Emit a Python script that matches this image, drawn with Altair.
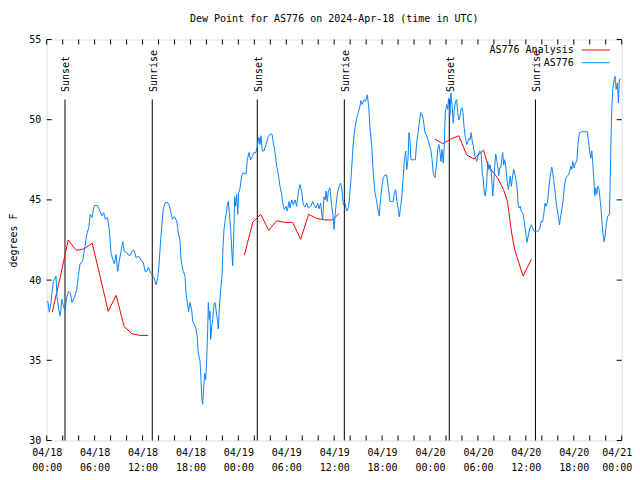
import altair as alt
import pandas as pd
import json

TITLE = "Dew Point for AS776 on 2024-Apr-18 (time in UTC)"
FONT = "DejaVu Sans Mono"
BLUE = "#0a84ff"
RED = "#ff0000"

# ---- AS776 observations (hours since 2024-04-18 00:00 UTC, deg F) ----
blue_hours = [
    0.13, 0.33, 0.54, 0.66, 0.83, 1.16, 1.29, 1.5, 1.7, 1.9, 2.08, 2.29, 2.5, 2.75, 2.96, 3.17, 3.46, 3.76, 3.96,
    4.17, 4.5, 4.83, 5.0, 5.26, 5.46, 5.67, 5.96, 6.38, 6.67, 6.92, 7.13, 7.34, 7.63, 7.84, 8.05, 8.26, 8.47, 8.68,
    8.89, 9.09, 9.34, 9.52, 9.72, 10.02, 10.35, 10.68, 10.97, 11.18, 11.52, 11.81, 12.1, 12.31,
    12.52, 12.72, 13.02, 13.22, 13.43, 13.69, 13.9, 14.06, 14.27, 14.44, 14.6, 14.81, 15.1, 15.35, 15.56, 15.73,
    15.98, 16.28, 16.48, 16.69, 16.82, 17.03, 17.32, 17.44, 17.61, 17.78, 17.94, 18.15, 18.28, 18.48, 18.69, 18.86,
    18.98, 19.2, 19.32, 19.41, 19.53, 19.66, 19.78, 19.91, 20.03, 20.16, 20.24, 20.36, 20.45, 20.53, 20.66, 20.79,
    20.95, 21.08, 21.2, 21.37, 21.49, 21.62, 21.79, 21.95, 22.08, 22.2, 22.37, 22.54, 22.61, 22.74, 22.87, 23.04,
    23.17, 23.29, 23.42, 23.54, 23.67, 23.79, 23.92, 24.04, 24.2,
    24.42, 24.62, 24.96, 25.12, 25.33, 25.54, 25.74, 25.96, 26.2, 26.37, 26.58, 26.71, 26.83, 27.0, 27.21, 27.46,
    27.75, 27.96, 28.21, 28.38, 28.59, 28.8, 29.0, 29.21, 29.43, 29.55, 29.75, 29.97, 30.13, 30.34, 30.47, 30.68,
    30.88, 31.09, 31.3, 31.51, 31.72, 31.93, 32.13, 32.34, 32.55, 32.76, 33.06, 33.31, 33.47, 33.72, 33.93, 34.1,
    34.31, 34.44, 34.56, 34.72, 34.89, 34.97, 35.14, 35.26, 35.47, 35.64, 35.81, 35.98, 36.1, 36.26, 36.44, 36.64,
    36.81,
    36.94, 37.14, 37.35, 37.57, 37.77, 37.89, 38.07, 38.23, 38.39, 38.6, 38.82, 39.02, 39.23, 39.35, 39.52, 39.73,
    39.94, 40.14, 40.32, 40.48, 40.7, 40.9, 41.11, 41.32, 41.52, 41.65, 41.74, 41.95, 42.15, 42.36, 42.57, 42.7,
    42.86, 42.99, 43.2, 43.4, 43.53, 43.7, 43.83, 44.03, 44.15, 44.33, 44.45, 44.65, 44.78, 44.95, 45.08, 45.24,
    45.36, 45.49, 45.61, 45.9, 46.16, 46.33, 46.5, 46.66, 46.84, 47.0, 47.16, 47.37, 47.66, 47.91, 48.08, 48.24,
    48.41, 48.62, 48.83, 48.96, 49.12, 49.25, 49.37, 49.5, 49.66, 49.79, 49.91, 50.09, 50.21, 50.33, 50.5, 50.62,
    50.75, 50.91, 51.04, 51.21, 51.34, 51.46, 51.63, 51.75, 51.88, 52.0, 52.13, 52.25, 52.42, 52.6, 52.76, 52.88,
    53.01, 53.13, 53.3, 53.42, 53.63, 53.84, 54.04, 54.25, 54.41, 54.54, 54.66, 54.79, 54.92, 55.1, 55.22, 55.35,
    55.51, 55.68, 55.85, 55.98, 56.1, 56.23, 56.35, 56.48, 56.6, 56.73, 56.85, 56.98, 57.1, 57.23, 57.35, 57.48,
    57.64, 57.8, 57.93, 58.05, 58.18, 58.35, 58.47, 58.63, 58.75, 58.92, 59.04, 59.17, 59.29, 59.42, 59.6, 59.76,
    59.88, 60.01, 60.13, 60.26, 60.38, 60.51, 60.68, 60.86, 61.03, 61.28, 61.56, 61.77, 61.9, 62.1, 62.27, 62.4,
    62.52, 62.69, 62.81, 62.94, 63.11, 63.24, 63.36, 63.53, 63.69, 63.86, 64.07, 64.2, 64.37, 64.54, 64.7, 64.87,
    65.04, 65.25, 65.45, 65.63, 65.75, 65.88, 66.04, 66.21, 66.38, 66.54, 66.71, 67.01, 67.42, 67.71, 67.83, 67.96,
    68.13, 68.26, 68.38, 68.51, 68.63, 68.76, 68.88, 69.01, 69.17, 69.3, 69.42, 69.55, 69.67, 69.8, 69.92, 70.09,
    70.26, 70.46, 70.55, 70.63, 70.76, 70.88, 71.05, 71.17, 71.3, 71.46, 71.59, 71.71, 71.88,
]
blue_dewpoint = [
    38.7, 38.0, 38.6, 39.2, 39.9, 40.25, 39.0, 38.2, 37.75, 38.8, 38.4, 38.1, 38.9, 39.3, 39.2, 38.6, 38.9, 39.4, 40.25,
    41.0, 41.2, 42.2, 42.85, 43.25, 44.1, 43.9, 44.65, 44.65, 44.3, 44.0, 44.2, 43.8, 43.9, 43.15, 41.7, 41.3, 41.0, 41.6,
    40.55, 41.2, 41.9, 42.4, 41.8, 41.7, 41.5, 41.8, 41.85, 41.4, 41.5, 41.25, 41.1, 40.55,
    40.55, 40.8, 40.45, 40.3, 40.15, 39.7, 40.15, 40.9, 42.5, 43.55, 44.4, 44.8, 44.85, 44.65, 44.2, 43.8,
    43.95, 43.7, 42.95, 42.5, 41.3, 40.65, 40.25, 39.2, 38.6, 38.05, 38.6, 38.15, 37.45, 37.25, 37.0, 36.4,
    35.45, 34.95, 33.8, 32.75, 32.25, 33.3, 34.2, 33.8, 34.95, 36.9, 38.6, 37.55, 38.05, 36.3, 37.1, 37.55,
    38.5, 38.6, 38.15, 37.55, 36.95, 38.3, 39.4, 40.25, 42.1, 43.15, 43.8, 44.3, 44.7, 44.9, 44.2, 43.15,
    41.9, 40.9, 42.75, 45.2, 44.6, 45.35, 44.1, 45.45, 45.7,
    46.5, 46.7, 46.6, 47.5, 47.95, 47.5, 47.7, 47.95, 47.95, 48.35, 48.9, 48.45, 49.0, 48.05, 48.05, 48.45,
    48.95, 49.1, 49.1, 48.55, 47.95, 47.1, 46.6, 45.85, 45.35, 44.8, 44.4, 44.6, 44.3, 44.9, 44.5, 45.0,
    44.7, 45.0, 44.6, 45.45, 45.95, 45.55, 44.7, 44.55, 44.8, 44.5, 44.6, 44.9, 44.7, 44.5, 44.8, 44.45,
    44.8, 44.1, 43.8, 45.2, 45.0, 45.55, 44.9, 45.55, 45.75, 44.8, 44.2, 43.15, 44.0, 44.8, 45.55, 45.85,
    46.05,
    45.75, 44.7, 44.8, 44.3, 44.5, 45.0, 46.05, 47.3, 48.55, 49.5, 50.1, 50.45, 50.85, 51.2, 50.95, 51.25,
    51.15, 51.55, 50.85, 49.5, 48.35, 46.6, 45.45, 44.9, 44.3, 44.0, 44.7, 45.75, 46.4, 46.55, 46.55, 46.05,
    45.45, 44.9, 44.9, 44.9, 45.45, 45.65, 45.0, 44.4, 43.95, 44.6, 45.1, 46.5, 47.4, 48.05, 46.9, 47.5,
    49.2, 48.75, 47.5, 47.5, 47.5, 48.55, 49.2, 49.8, 50.45, 50.3, 50.0, 49.2, 48.9, 48.45, 48.15, 47.6,
    46.6, 46.4, 47.3, 48.15, 48.45, 47.95, 47.4, 48.15, 47.3, 48.35, 50.45, 50.95, 50.65, 51.35, 50.3, 51.65,
    50.95, 49.8, 50.65, 51.15, 51.25, 50.45, 50.0, 50.2, 50.65, 50.75, 50.45, 49.6, 48.9, 48.45, 48.65, 48.85,
    48.75, 49.2, 48.65, 48.35, 47.7, 47.4, 47.85, 48.05, 47.85, 46.7, 46.3, 45.45, 45.25, 46.05, 47.4, 46.9,
    47.2, 46.7, 45.25, 46.05, 47.1, 47.85, 47.5, 47.1, 46.5, 47.0, 47.0, 47.5, 47.95, 47.2, 47.5, 47.1,
    46.3, 45.65, 46.05, 46.5, 45.85, 46.5, 46.9, 46.6, 46.3, 45.65, 44.7, 44.5, 44.6, 44.3, 44.2, 43.8,
    43.35, 42.85, 42.35, 42.65, 42.95, 43.25, 43.45, 43.25, 43.05, 43.05, 43.05, 43.25, 43.65, 43.65, 44.2, 44.8,
    44.6, 44.8, 45.35, 46.05, 46.7, 47.05, 46.7, 46.05, 45.35, 44.6, 44.0, 43.45, 44.0, 44.5, 45.15, 46.0,
    46.4, 46.5, 46.7, 47.1, 46.9, 47.4, 47.0, 47.3, 47.4, 48.55, 49.2, 49.25, 49.25, 49.25, 48.75, 48.15,
    47.6, 48.05, 47.3, 46.3, 45.25, 45.75, 45.35, 45.85, 45.65, 45.0, 44.4, 43.45, 42.85, 42.4, 42.75, 43.55,
    44.0, 44.05, 45.85, 47.95, 50.65, 51.9, 52.5, 52.7, 51.9, 52.3, 51.05, 52.5, 52.55,
]

# ---- AS776 Analysis (three separate runs) ----
red_hours_1 = [0.7, 1.7, 2.7, 3.7, 4.7, 5.7, 6.7, 7.7, 8.7, 9.7, 10.7, 11.7, 12.7]
red_dewpoint_1 = [38.0, 40.2, 42.5, 41.85, 41.95, 42.3, 40.2, 38.05, 39.05, 37.1, 36.65, 36.55, 36.55]
red_hours_2 = [24.75, 25.8, 26.8, 27.8, 28.8, 29.8, 30.8, 31.8, 32.8, 33.8, 34.8, 35.8, 36.6]
red_dewpoint_2 = [41.55, 43.6, 44.1, 43.1, 43.7, 43.6, 43.6, 42.55, 44.1, 43.85, 43.75, 43.75, 44.15]
red_hours_3 = [48.6, 49.6, 50.6, 51.6, 52.6, 53.5, 54.7, 55.3, 56.5, 57.2, 57.7, 58.2, 58.6, 59.65, 60.7]
red_dewpoint_3 = [48.8, 48.5, 48.8, 49.0, 47.8, 47.55, 48.1, 47.1, 46.35, 45.65, 44.9, 43.0, 41.9, 40.25, 41.3]

# ---- sunset / sunrise markers ----
sun_hours = [2.29, 13.22, 26.37, 37.27, 50.41, 61.2]
sun_labels = ["Sunset", "Sunrise", "Sunset", "Sunrise", "Sunset", "Sunrise"]

# ---- axis ticks ----
x_tick_hours = [0, 6, 12, 18, 24, 30, 36, 42, 48, 54, 60, 66, 72]
x_tick_dates = ["04/18", "04/18", "04/18", "04/18", "04/19", "04/19", "04/19", "04/19",
                "04/20", "04/20", "04/20", "04/20", "04/21"]
x_tick_times = ["00:00", "06:00", "12:00", "18:00", "00:00", "06:00", "12:00", "18:00",
                "00:00", "06:00", "12:00", "18:00", "00:00"]
x_minor_hours = [0, 2, 4, 6, 8, 10, 12, 14, 16, 18, 20, 22, 24, 26, 28, 30, 32, 34, 36,
                 38, 40, 42, 44, 46, 48, 50, 52, 54, 56, 58, 60, 62, 64, 66, 68, 70, 72]
y_ticks = [30, 35, 40, 45, 50, 55]

legend_labels = ["AS776 Analysis", "AS776"]
legend_colors = [RED, BLUE]

W, H = 575, 401

blue_df = pd.DataFrame({"hour": blue_hours, "value": blue_dewpoint})
red_df = pd.concat([
    pd.DataFrame({"hour": red_hours_1, "value": red_dewpoint_1, "seg": 1}),
    pd.DataFrame({"hour": red_hours_2, "value": red_dewpoint_2, "seg": 2}),
    pd.DataFrame({"hour": red_hours_3, "value": red_dewpoint_3, "seg": 3}),
])
sun_df = pd.DataFrame({"hour": sun_hours, "label": sun_labels})
xt_df = pd.DataFrame({"hour": x_minor_hours})
yt_df = pd.DataFrame({"value": y_ticks})

label_expr = "[{d}[round(datum.value/6)], {t}[round(datum.value/6)]]".format(
    d=json.dumps(x_tick_dates), t=json.dumps(x_tick_times))

xaxis = alt.Axis(values=x_tick_hours, labelExpr=label_expr, title=None, grid=False,
                 ticks=False, tickSize=0, domain=False, labelFont=FONT, labelFontSize=10,
                 labelColor="black", labelPadding=7, labelLineHeight=15, labelFlush=False,
                 labelOverlap=False,
                 labelOffset=alt.condition("datum.value >= 72", alt.value(-5), alt.value(0)))
yaxis = alt.Axis(values=y_ticks, title="degrees F", grid=False, ticks=False, tickSize=0,
                 domain=False, labelFont=FONT, labelFontSize=10, labelColor="black",
                 labelPadding=6, titleFont=FONT, titleFontSize=10, titleFontWeight="normal",
                 titleColor="black", titlePadding=10)

X = alt.X("hour:Q", scale=alt.Scale(domain=[0, 72], nice=False, zero=False), axis=xaxis)
Y = alt.Y("value:Q", scale=alt.Scale(domain=[30, 55], nice=False, zero=False), axis=yaxis)

blue = alt.Chart(blue_df).mark_line(color=BLUE, strokeWidth=1).encode(x=X, y=Y)
red = alt.Chart(red_df).mark_line(color=RED, strokeWidth=1).encode(x=X, y=Y, detail="seg:N")

sun_rules = alt.Chart(sun_df).mark_rule(color="black", strokeWidth=1).encode(
    x=X, y=alt.value(60), y2=alt.value(H))
sun_text = alt.Chart(sun_df).mark_text(
    angle=270, align="left", baseline="middle", font=FONT, fontSize=10, color="black", dy=1.5
).encode(x=X, y=alt.value(52.5), text="label:N")

xt_bottom = alt.Chart(xt_df).mark_rule(color="black", strokeWidth=1).encode(
    x=X, y=alt.value(H), y2=alt.value(H - 5))
xt_top = alt.Chart(xt_df).mark_rule(color="black", strokeWidth=1).encode(
    x=X, y=alt.value(0), y2=alt.value(5))
yt_left = alt.Chart(yt_df).mark_rule(color="black", strokeWidth=1).encode(
    y=Y, x=alt.value(0), x2=alt.value(5))
yt_right = alt.Chart(yt_df).mark_rule(color="black", strokeWidth=1).encode(
    y=Y, x=alt.value(W - 5), x2=alt.value(W))

leg_layers = []
for i, (lab, col) in enumerate(zip(legend_labels, legend_colors)):
    ly = 10.5 + 12.7 * i
    ldf = pd.DataFrame({"label": [lab]})
    leg_layers.append(alt.Chart(ldf).mark_text(
        align="right", baseline="middle", font=FONT, fontSize=10, color="black"
    ).encode(x=alt.value(527), y=alt.value(ly), text="label:N"))
    leg_layers.append(alt.Chart(ldf).mark_rule(color=col, strokeWidth=1).encode(
        x=alt.value(535), x2=alt.value(563), y=alt.value(ly)))

chart = alt.layer(
    sun_rules, sun_text, red, blue, xt_bottom, xt_top, yt_left, yt_right, *leg_layers
).properties(
    width=W, height=H,
    title=alt.TitleParams(TITLE, font=FONT, fontSize=10, fontWeight="normal", color="black",
                          anchor="middle", offset=11),
    autosize=alt.AutoSizeParams(type="none"),
    padding={"left": 38.7, "top": 31.5, "right": 10, "bottom": 31},
).configure_view(stroke="black", strokeWidth=1).configure(background="white")

chart.save("out.html", embed_options={"renderer": "svg", "actions": False})
